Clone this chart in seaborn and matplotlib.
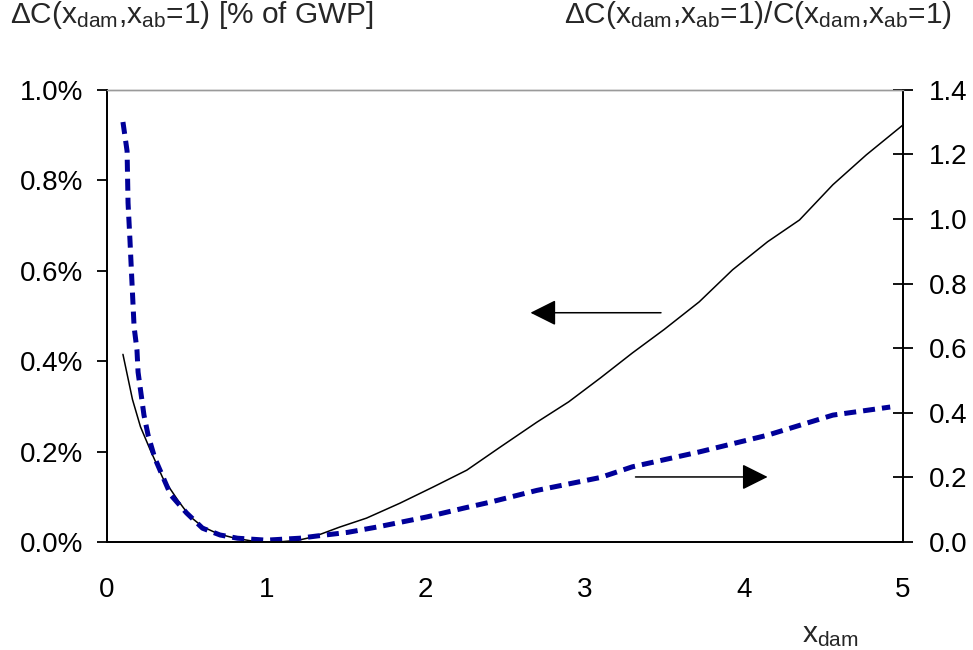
import matplotlib
matplotlib.use("Agg")
import matplotlib.pyplot as plt
from matplotlib.ticker import FuncFormatter, MultipleLocator
import seaborn as sns
import pandas as pd

# ─── DATA ───────────────────────────────────────────────────
# solid black: absolute cost increase, % of GWP (left axis)
x_abs = [0.1, 0.13, 0.16, 0.21, 0.27, 0.35, 0.45, 0.52, 0.6, 0.7, 0.8, 0.9,
         1.0, 1.1, 1.2, 1.3, 1.46, 1.63, 1.84, 2.05, 2.26, 2.47, 2.7, 2.9,
         3.1, 3.3, 3.5, 3.72, 3.93, 4.15, 4.35, 4.56, 4.77, 5.0]
y_abs = [0.415, 0.365, 0.315, 0.255, 0.205, 0.142, 0.09, 0.057, 0.034,
         0.018, 0.009, 0.003, 0.0, 0.001, 0.004, 0.012, 0.033, 0.053, 0.086,
         0.122, 0.159, 0.21, 0.265, 0.31, 0.363, 0.418, 0.47, 0.531, 0.602,
         0.664, 0.712, 0.79, 0.856, 0.922]

# dotted blue: relative cost increase (right axis)
x_rel = [0.1, 0.126, 0.132, 0.144, 0.157, 0.17, 0.188, 0.195, 0.232, 0.258,
         0.3, 0.4, 0.5, 0.6, 0.71, 0.82, 1.0, 1.21, 1.32, 1.51, 1.7, 1.91,
         2.01, 2.24, 2.41, 2.7, 3.1, 3.3, 3.72, 4.15, 4.56, 4.92]
y_rel = [1.30, 1.21, 1.05, 0.935, 0.80, 0.666, 0.595, 0.526, 0.393, 0.331,
         0.26, 0.146, 0.09, 0.043, 0.022, 0.012, 0.006, 0.012, 0.019, 0.03,
         0.047, 0.068, 0.078, 0.105, 0.124, 0.16, 0.20, 0.233, 0.279, 0.331,
         0.393, 0.418]

df_abs = pd.DataFrame({"x": x_abs, "y": y_abs})
df_rel = pd.DataFrame({"x": x_rel, "y": y_rel})

# ─── STYLE ───────────────────────────────────────────────────
sns.set_style("white")
plt.rcParams["font.family"] = ["Liberation Sans", "DejaVu Sans"]
plt.rcParams["mathtext.fontset"] = "custom"
plt.rcParams["mathtext.rm"] = "Liberation Sans"
plt.rcParams["mathtext.it"] = "Liberation Sans"

FS = 20
NAVY = "#000099"

fig = plt.figure(figsize=(9.73, 6.5), dpi=100)
ax = fig.add_axes([0.110, 0.166, 0.818, 0.696])
ax2 = ax.twinx()

sns.lineplot(data=df_abs, x="x", y="y", ax=ax, color="black", lw=1.1,
             estimator=None, sort=False)
sns.lineplot(data=df_rel, x="x", y="y", ax=ax2, color=NAVY, lw=3.6,
             estimator=None, sort=False)
ax2.lines[0].set_dashes((2.4, 1.4))

# ─── AXES ────────────────────────────────────────────────────
ax.set_xlim(0, 5)
ax.set_ylim(0, 1.0)
ax2.set_ylim(0, 1.4)
ax.xaxis.set_major_locator(MultipleLocator(1))
ax.yaxis.set_major_locator(MultipleLocator(0.2))
ax2.yaxis.set_major_locator(MultipleLocator(0.2))
ax.yaxis.set_major_formatter(FuncFormatter(lambda v, p: f"{v:.1f}%"))
ax2.yaxis.set_major_formatter(FuncFormatter(lambda v, p: f"{v:.1f}"))
ax.set_xlabel("")
ax.set_ylabel("")
ax2.set_ylabel("")

for a in (ax, ax2):
    for s in a.spines.values():
        s.set_visible(True)
        s.set_color("black")
        s.set_linewidth(1.3)
    a.spines["top"].set_color("#9a9a9a")
    a.spines["top"].set_linewidth(1.0)

ax.tick_params(axis="x", direction="out", length=7, width=1.3, labelsize=FS,
               pad=18, colors="black")
ax.tick_params(axis="y", direction="out", length=7, width=1.3, labelsize=FS,
               pad=10, left=True, colors="black")
ax2.tick_params(axis="y", direction="inout", length=14, width=1.3,
                labelsize=FS, pad=12, right=True, colors="black")

# ─── ARROWS ──────────────────────────────────────────────────
arrow = dict(arrowstyle="-|>,head_length=0.8,head_width=0.4",
             mutation_scale=20, lw=1.1, color="black", shrinkA=0, shrinkB=0)
ax.annotate("", xy=(2.66, 0.507), xytext=(3.48, 0.507), arrowprops=arrow)
ax.annotate("", xy=(4.15, 0.144), xytext=(3.32, 0.144), arrowprops=arrow)

# ─── TEXTS ───────────────────────────────────────────────────
TFS = 21.5
sub = lambda s: r"$_\mathregular{" + s + "}$"
fig.text(10 / 973, 1 - 23 / 650,
         "ΔC(x" + sub("dam") + ",x" + sub("ab") + "=1) [% of GWP]",
         fontsize=TFS, ha="left", va="baseline")
fig.text(952 / 973, 1 - 23 / 650,
         "ΔC(x" + sub("dam") + ",x" + sub("ab") + "=1)/C(x" + sub("dam")
         + ",x" + sub("ab") + "=1)",
         fontsize=TFS, ha="right", va="baseline")
fig.text(830 / 973, 1 - 642 / 650, "x" + sub("dam"), fontsize=TFS,
         ha="center", va="baseline")

fig.savefig("out.png", dpi=100)
